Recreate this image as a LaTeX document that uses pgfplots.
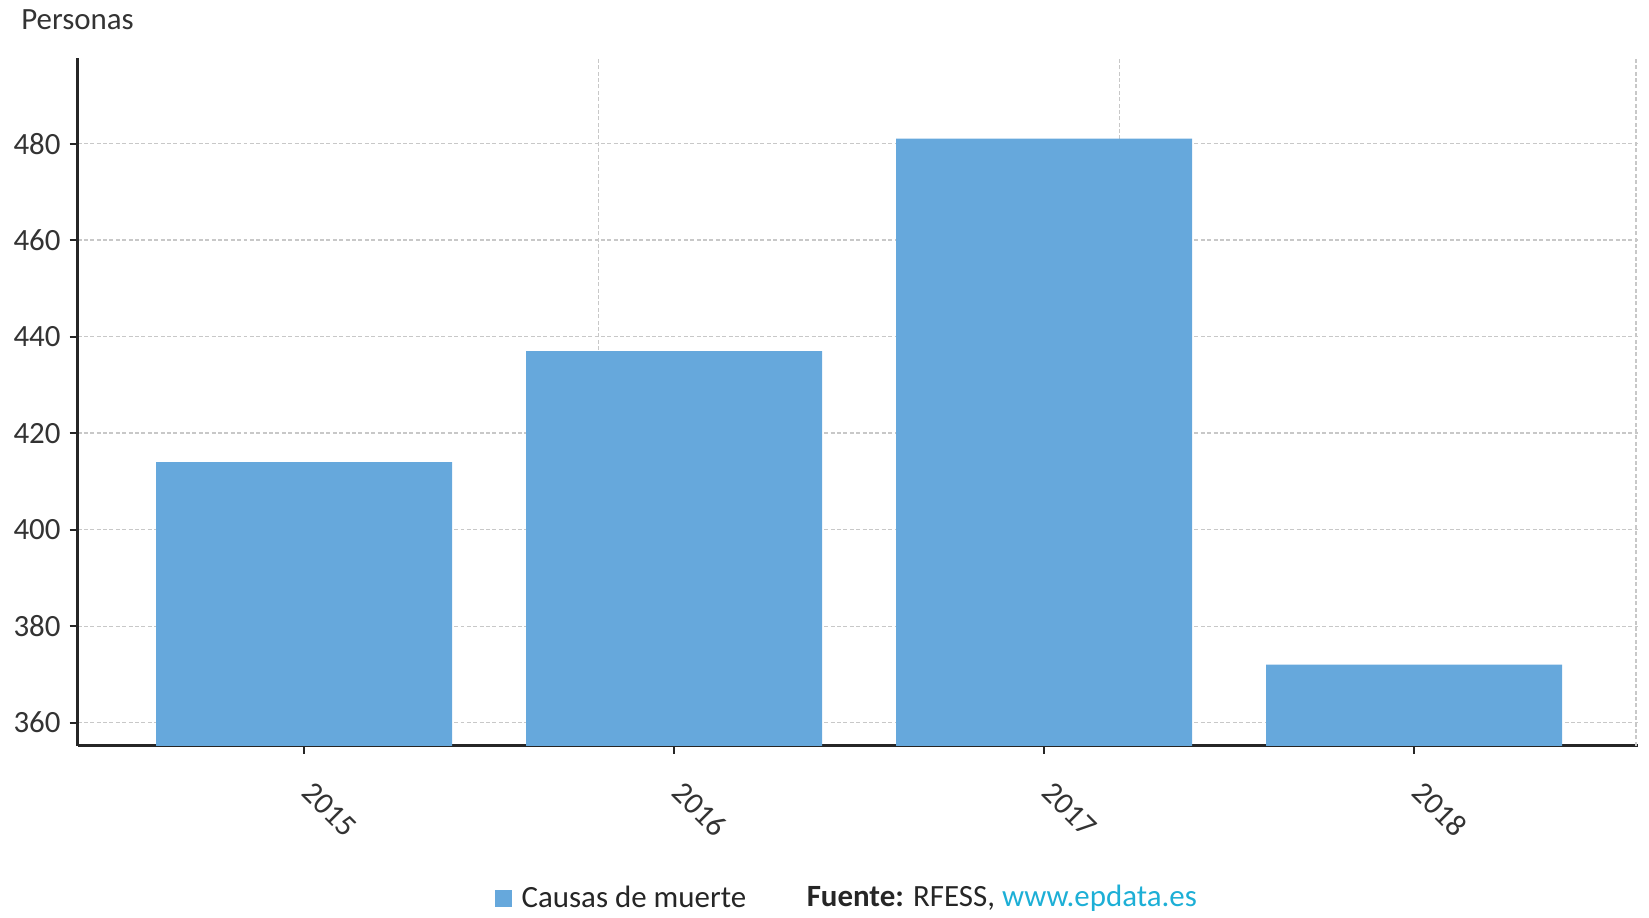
\documentclass[border=0pt]{standalone}
\usepackage{pgfplots}
\pgfplotsset{compat=1.18}
\usepackage{fontspec}
\setmainfont{Carlito}
\definecolor{barblue}{RGB}{102,168,220}
\definecolor{txt}{RGB}{51,51,51}
\definecolor{url}{RGB}{29,175,214}
\definecolor{gridc}{RGB}{200,200,200}
\begin{document}
\begin{tikzpicture}
\begin{axis}[
  width=782.5pt, height=345pt, scale only axis,
  xmin=-0.612, xmax=3.606, ymin=355.2, ymax=497.8,
  clip=false,
  axis x line*=bottom, axis y line*=left,
  x axis line style={line width=1.5pt, draw=black!85, -},
  y axis line style={line width=1.2pt, draw=black!85, -},
  ytick={360,380,400,420,440,460,480},
  xtick={0,1,2,3}, xticklabels={2015,2016,2017,2018},
  extra x ticks={0.795,2.205,3.6}, extra x tick labels={},
  extra x tick style={grid=major, major tick length=0pt},
  ymajorgrids,
  grid style={dash pattern=on 2pt off 1.2pt, draw=gridc, line width=0.6pt},
  tick align=outside,
  major tick length=4pt,
  tick style={draw=black!85, line width=1pt},
  /pgf/number format/assume math mode=true,
  ticklabel style={font=\fontsize{15.5}{17}\selectfont, text=txt},
  yticklabel style={xshift=-1pt},
  xticklabel style={rotate=-45, anchor=west, xshift=-1pt},
  xticklabel shift=15pt,
  legend style={draw=none, at={(rel axis cs:0.267,-0.222)}, anchor=west,
    font=\fontsize{15.5}{17}\selectfont, text=black!85, inner sep=0pt},
  legend image code/.code={\fill[barblue] (0pt,-4.25pt) rectangle (8.5pt,4.25pt);},
  legend image post style={},
]
\addplot[ybar, bar width=0.8, fill=barblue, draw=none] coordinates {(0,414) (1,437) (2,481) (3,372)};
\addlegendentry{\hspace{3pt}Causas de muerte}
\node[anchor=west, inner sep=0pt, font=\fontsize{15.5}{17}\selectfont, text=black!85] at (rel axis cs:0.467,-0.222) {\textbf{Fuente:} RFESS, \textcolor{url}{www.epdata.es}};
\node[anchor=west, inner sep=0pt, font=\fontsize{15.5}{17}\selectfont, text=txt] at (rel axis cs:-0.0363,1.0548) {Personas};
\path (rel axis cs:-0.0497,-0.2496) rectangle (rel axis cs:1.004,1.0838);
\end{axis}
\end{tikzpicture}
\end{document}
